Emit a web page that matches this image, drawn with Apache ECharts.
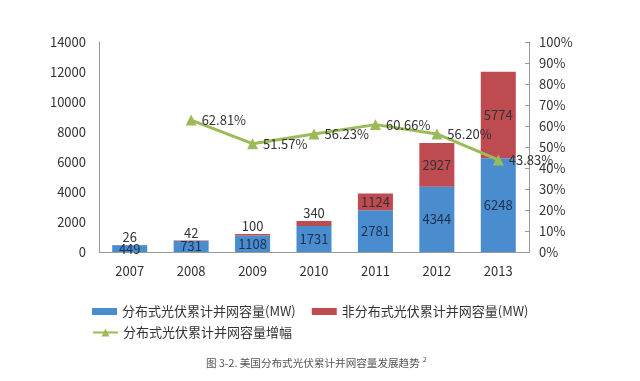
<!DOCTYPE html>
<html><head><meta charset="utf-8">
<script src="https://cdn.jsdelivr.net/npm/echarts@6/dist/echarts.min.js"></script>
<style>html,body{margin:0;padding:0;background:#fff}#c{width:640px;height:381px}</style>
</head><body><div id="c"></div>
<script>
const years = ['2007','2008','2009','2010','2011','2012','2013'];
const distributed = [449, 731, 1108, 1731, 2781, 4344, 6248];
const nonDistributed = [26, 42, 100, 340, 1124, 2927, 5774];
const growthPct = [null, 62.81, 51.57, 56.23, 60.66, 56.20, 43.83];
const leftTicks = {min: 0, max: 14000, interval: 2000};
const rightTicks = {min: 0, max: 100, interval: 10};
const names = ['分布式光伏累计并网容量(MW)', '非分布式光伏累计并网容量(MW)', '分布式光伏累计并网容量增幅'];

const font = '"Noto Sans CJK SC", "Liberation Sans", sans-serif';
const txt = '#333';
const chart = echarts.init(document.getElementById('c'), null, {renderer: 'canvas'});
chart.setOption({
  animation: false,
  textStyle: {fontFamily: font},
  title: {
    text: '图 3-2. 美国分布式光伏累计并网容量发展趋势{sup|2}',
    left: 201, top: 351,
    textStyle: {fontSize: 10.6, fontWeight: 'normal', color: '#555', fontFamily: font,
      rich: {sup: {fontSize: 7, color: '#555', verticalAlign: 'top', padding: [0,0,6,3]}}}
  },
  legend: [{
    data: [names[0], names[1]], left: 87, top: 300, itemWidth: 25, itemHeight: 7, itemGap: 16,
    textStyle: {fontSize: 13, color: txt, fontFamily: font}, icon: 'rect'
  }, {
    data: [names[2]], left: 87, top: 321, itemWidth: 25, itemHeight: 10,
    textStyle: {fontSize: 13, color: txt, fontFamily: font}
  }],
  grid: {left: 99, right: 111, top: 42, bottom: 129},
  xAxis: {
    type: 'category', data: years,
    axisLine: {lineStyle: {color: '#999'}}, axisTick: {show: false},
    axisLabel: {color: txt, fontSize: 13, margin: 13}
  },
  yAxis: [{
    type: 'value', ...leftTicks,
    axisLine: {show: true, lineStyle: {color: '#999'}}, axisTick: {show: false},
    splitLine: {show: false},
    axisLabel: {color: txt, fontSize: 13, margin: 13, formatter: v => String(v)}
  }, {
    type: 'value', ...rightTicks, position: 'right',
    axisLine: {show: true, lineStyle: {color: '#999'}},
    axisTick: {show: true, inside: true, length: 4, lineStyle: {color: '#999'}},
    splitLine: {show: false},
    axisLabel: {color: txt, fontSize: 13, margin: 10, formatter: '{value}%'}
  }],
  series: [{
    name: names[0], type: 'bar', stack: 's', data: distributed, barWidth: '57%',
    itemStyle: {color: '#4A8DCF'},
    label: {show: true, position: 'inside', color: '#1d2f4d', fontSize: 13, fontFamily: font}
  }, {
    name: names[1], type: 'bar', stack: 's', barWidth: '57%',
    data: nonDistributed.map((v, i) => i < 4 ? {value: v, label: {position: 'top', distance: 1}} : v),
    itemStyle: {color: '#BE4B50'},
    label: {show: true, position: 'inside', color: '#333', fontSize: 13, fontFamily: font}
  }, {
    name: names[2], type: 'line', yAxisIndex: 1, data: growthPct,
    symbol: 'triangle', symbolSize: 11,
    lineStyle: {color: '#9BBB59', width: 3}, itemStyle: {color: '#9BBB59'},
    label: {show: true, position: 'right', distance: 5, color: '#333', fontSize: 13,
      fontFamily: font, formatter: p => p.value.toFixed(2) + '%'}
  }]
});
</script></body></html>
